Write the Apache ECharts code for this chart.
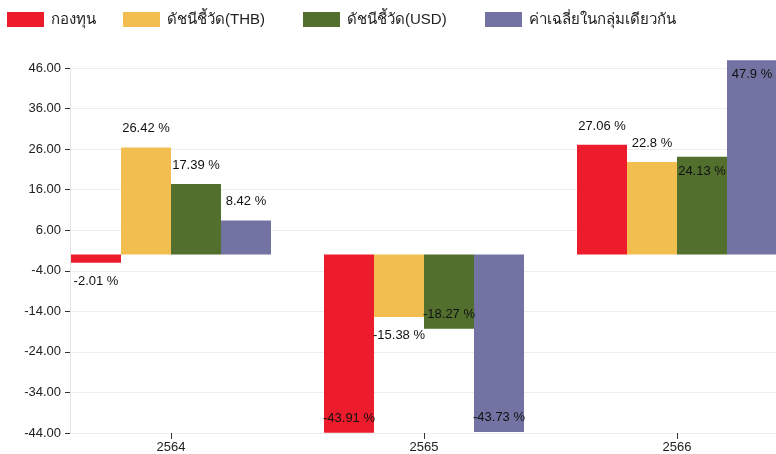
<!DOCTYPE html>
<html>
<head>
<meta charset="utf-8">
<script src="https://cdn.jsdelivr.net/npm/echarts@6/dist/echarts.min.js"></script>
<style>
html, body { margin: 0; padding: 0; background: #fff; }
#chart { width: 776px; height: 454px; }
</style>
</head>
<body>
<div id="chart"></div>
<script>
// data
var years = ['2564', '2565', '2566']
var seriesNames = ['กองทุน', 'ดัชนีชี้วัด(THB)', 'ดัชนีชี้วัด(USD)', 'ค่าเฉลี่ยในกลุ่มเดียวกัน']
var fundValues = [-2.01, -43.91, 27.06]
var thbValues = [26.42, -15.38, 22.8]
var usdValues = [17.39, -18.27, 24.13]
var peerValues = [8.42, -43.73, 47.9]

var colors = ['#ec1c2d', '#f2be50', '#526f2d', '#7373a3']
var font = 'Liberation Sans, Arial, Noto Sans, sans-serif'
// left edge of each legend item in the original
var legendLefts = [7, 123, 303, 485]

// labels that sit inside the bar instead of outside (series index, data index)
var insideLabels = ['0-1', '2-1', '3-1', '2-2', '3-2']

function makeSeries (si, values) {
  return {
    name: seriesNames[si],
    type: 'bar',
    xAxisIndex: 1,
    yAxisIndex: 1,
    barWidth: 50,
    barGap: '0%',
    clip: false,
    itemStyle: { color: colors[si] },
    data: values.map(function (v, di) {
      var inside = insideLabels.indexOf(si + '-' + di) >= 0
      var pos
      if (inside) pos = v >= 0 ? 'insideTop' : 'insideBottom'
      else pos = v >= 0 ? 'top' : 'bottom'
      return {
        value: v,
        label: { position: pos, distance: inside ? 8 : 12 }
      }
    }),
    label: {
      show: true,
      color: '#111',
      fontSize: 13,
      fontFamily: font,
      formatter: function (p) { return p.value + ' %' }
    }
  }
}

var legends = seriesNames.map(function (n, i) {
  return {
    left: legendLefts[i],
    top: 12,
    padding: 0,
    itemWidth: 37,
    itemHeight: 15,
    icon: 'rect',
    data: [n],
    textStyle: { fontSize: 15, color: '#222', fontFamily: font, padding: [0, 0, 0, 2] }
  }
})

var chart = echarts.init(document.getElementById('chart'))
chart.setOption({
  animation: false,
  color: colors,
  legend: legends,
  grid: [
    { left: 70, right: 0, top: 68, bottom: 21, containLabel: false },
    { left: 44.5, width: 759, top: 68, bottom: 21, containLabel: false, outerBoundsMode: 'none' }
  ],
  xAxis: [
    { type: 'value', gridIndex: 0, show: false, min: 0, max: 1 },
    {
      type: 'category',
      gridIndex: 1,
      position: 'bottom',
      data: years,
      axisLine: { show: false, onZero: false },
      axisTick: { show: true, alignWithLabel: true, length: 6, lineStyle: { color: '#333' } },
      axisLabel: { margin: 8, color: '#222', fontSize: 13, fontFamily: font }
    }
  ],
  yAxis: [
    {
      type: 'value',
      gridIndex: 0,
      min: -44,
      max: 46,
      interval: 10,
      axisLine: { show: true, lineStyle: { color: '#e3e3e3' } },
      axisTick: { show: true, length: 5, lineStyle: { color: '#333' } },
      axisLabel: {
        margin: 9,
        color: '#222',
        fontSize: 13,
        fontFamily: font,
        formatter: function (v) { return v.toFixed(2) }
      },
      splitLine: { show: true, lineStyle: { color: '#ececec' } }
    },
    { type: 'value', gridIndex: 1, min: -44, max: 46, show: false }
  ],
  series: [
    makeSeries(0, fundValues),
    makeSeries(1, thbValues),
    makeSeries(2, usdValues),
    makeSeries(3, peerValues)
  ]
})
</script>
</body>
</html>
